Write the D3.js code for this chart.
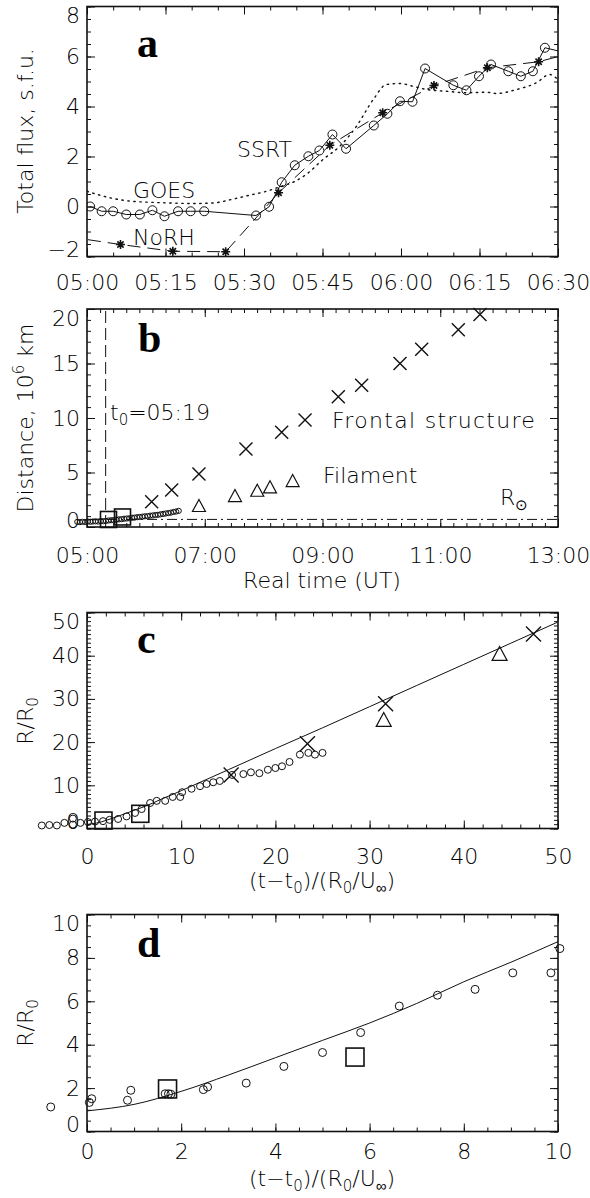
<!DOCTYPE html>
<html lang="en">
<head>
<meta charset="utf-8">
<script src="https://d3js.org/d3.v7.min.js"></script>
<style>
  body { margin: 0; background: #fff; }
  svg text { font-family: 'DejaVu Sans', sans-serif; font-size: 22px; fill: #000; font-weight: 200; }
  svg text.letter { font-family: 'Liberation Serif', 'Times New Roman', serif; font-size: 42px; font-weight: bold; }
  .domain { display: none; }
</style>
</head>
<body>
<svg id="fig" width="590" height="1198"></svg>
<script>
// ---------- panel a : total flux, minutes after 05:00 ----------
const ssrtTime = [0.6, 2.8, 5.0, 7.5, 10.1, 12.5, 14.8, 17.4, 19.8, 22.4, 32.3, 34.8, 37.2, 39.7, 42.3, 44.4,
  46.9, 49.5, 54.8, 57.4, 59.8, 62.2, 64.6, 70.0, 72.5, 74.9, 77.2, 80.5, 82.9, 85.2, 87.5, 91.5];
const ssrtFlux = [0, -0.19, -0.19, -0.32, -0.32, -0.15, -0.39, -0.19, -0.19, -0.19, -0.36, -0.01, 0.97, 1.65, 2.01, 2.24,
  2.88, 2.31, 3.24, 3.71, 4.21, 4.19, 5.52, 4.85, 4.65, 5.21, 5.68, 5.41, 5.21, 5.41, 6.35, 6.15];
const norhTime = [-3.6, 6.4, 16.4, 26.5, 36.6, 46.4, 56.5, 66.3, 76.5, 86.3, 96];
const norhFlux = [-1.21, -1.52, -1.79, -1.81, 0.55, 2.45, 3.75, 4.84, 5.55, 5.79, 6.33];
const goesTime = [0, 2.5, 5, 8, 12, 16, 20, 24, 28, 31, 34.3, 37, 39.7, 42, 45.1, 48.3, 51.5, 54.7, 57.2, 59.8,
  62.3, 64.9, 68.7, 72.5, 76.3, 78.3, 82.1, 85.9, 88.4, 90];
const goesFlux = [0.61, 0.45, 0.32, 0.22, 0.17, 0.14, 0.12, 0.14, 0.3, 0.45, 0.61, 0.8, 1.0, 1.3, 1.88, 2.41, 3.21, 4.28, 4.88, 4.92,
  4.81, 4.68, 4.61, 4.55, 4.57, 4.52, 4.68, 4.95, 5.28, 5.08];

// ---------- panel b : distance (10^6 km) vs minutes after 05:00 ----------
const frontTime = [65.9, 86.3, 114.1, 162.0, 198.4, 222.2, 256.1, 279.9, 319.0, 341.1, 378.4, 400.5];
const frontDist = [2.32, 3.39, 4.86, 7.16, 8.69, 9.82, 11.95, 13.0, 15.0, 16.3, 18.1, 19.5];
const filTime = [114.1, 150.8, 173.5, 186.5, 209.6];
const filDist = [1.93, 2.84, 3.33, 3.64, 4.22];
const boxTime = [21.9, 36.2];
const boxDist = [0.69, 0.92];
const loopTime = [-9.9, -7.2, -4.6, -1.9, 0.7, 3.4, 6.0, 8.7, 11.3, 14.0, 16.6, 19.3, 21.9, 24.6, 27.2, 29.9, 32.5, 35.2,
  37.8, 40.5, 43.1, 45.8, 48.4, 51.1, 53.7, 56.4, 59.0, 61.7, 64.3, 67.0, 69.6, 72.3, 74.9, 77.6, 80.2, 82.9, 85.5, 88.2, 90.8, 93.5];
const loopDist = [0.47, 0.45, 0.48, 0.46, 0.5, 0.48, 0.5, 0.52, 0.5, 0.55, 0.53, 0.56, 0.6, 0.62, 0.63, 0.68, 0.7, 0.72,
  0.76, 0.78, 0.8, 0.85, 0.86, 0.9, 0.92, 0.95, 0.98, 1.0, 1.04, 1.06, 1.1, 1.12, 1.16, 1.2, 1.24, 1.28, 1.32, 1.38, 1.42, 1.48];
const t0 = 19;        // 05:19
const rSun = 0.696;   // 10^6 km

// ---------- panel c / d : dimensionless ----------
const modelX = [0, 1, 2, 3, 4, 5, 6, 7, 8, 9, 10, 15, 20, 25, 30, 35, 40, 45, 50];
const modelY = [0.95, 1.25, 1.85, 2.6, 3.4, 4.2, 5.0, 5.9, 6.9, 7.8, 8.75, 13.6, 18.5, 23.3, 28.2, 33.1, 38.0, 42.9, 47.8];
const cLoopX = [-4.8, -4.0, -3.2, -2.4, -1.5, -1.5, -0.7, 0.1, 0.85, 1.7, 2.4, 3.3, 4.2, 5.1, 5.8, 6.7, 7.4, 8.3, 9.1, 9.9,
  10.1, 11.1, 12.0, 12.7, 13.4, 14.1, 15.4, 16.6, 17.4, 18.3, 19.2, 20.0, 20.7, 21.5, 22.6, 23.5, 24.2, 25.0];
const cLoopY = [0.7, 0.8, 0.7, 1.3, 0.9, 2.3, 1.3, 1.5, 1.6, 1.7, 2.0, 2.2, 2.8, 3.6, 4.5, 5.9, 6.4, 6.4, 7.3, 7.3,
  8.4, 9.2, 9.8, 10.3, 10.7, 11.0, 12.4, 12.6, 13.0, 12.8, 13.6, 14.0, 14.4, 15.4, 17.1, 17.5, 17.1, 17.5];
const cFrontX = [15.3, 23.4, 31.7, 47.4];
const cFrontY = [12.4, 19.6, 28.9, 45.0];
const cFilX = [31.5, 43.8];
const cFilY = [25.1, 40.4];
const cBoxX = [1.75, 5.66];
const cBoxY = [1.84, 3.4];
const dLoopX = [-0.77, 0.05, 0.1, 0.86, 0.93, 1.66, 1.73, 1.78, 2.47, 2.56, 3.38, 4.18, 5.0, 5.81, 6.63, 7.44, 8.24, 9.04, 9.85, 10.04];
const dLoopY = [1.13, 1.34, 1.51, 1.44, 1.9, 1.74, 1.74, 1.72, 1.93, 2.05, 2.23, 3.0, 3.64, 4.56, 5.78, 6.28, 6.55, 7.31, 7.31, 8.43];
const dBoxX = [1.71, 5.69];
const dBoxY = [1.96, 3.43];

const INK = '#111';
const svg = d3.select('#fig');
const zip = (a, b) => a.map((v, i) => [v, b[i]]);
const hhmm = m => String(5 + Math.floor(m / 60)).padStart(2, '0') + ':' + String(m % 60).padStart(2, '0');

// box + ticks on four sides, labels left and bottom
function frame(x, y, o) {
  const [x0, x1] = x.range(), [y0, y1] = y.range();
  const g = svg.append('g');
  const sides = [
    [d3.axisBottom, x, `translate(0,${y0})`, o.xMajor, o.xMinor, o.xFmt, o.xPad],
    [d3.axisTop, x, `translate(0,${y1})`, o.xMajor, o.xMinor, null, 0],
    [d3.axisLeft, y, `translate(${x0},0)`, o.yMajor, o.yMinor, o.yFmt, 7],
    [d3.axisRight, y, `translate(${x1},0)`, o.yMajor, o.yMinor, null, 0]
  ];
  sides.forEach(([ax, sc, tr, major, minor, fmt, pad], i) => {
    g.append('g').attr('transform', tr).attr('color', INK)
      .call(ax(sc).tickValues(minor).tickSize(-4).tickFormat(''));
    const a = g.append('g').attr('transform', tr).attr('color', INK)
      .call(ax(sc).tickValues(major).tickSize(-8).tickPadding(pad).tickFormat(fmt || ''));
    if (i === 2) {
      const lo = d3.min(major), hi = d3.max(major);
      a.selectAll('.tick text').attr('y', d => d === hi ? 9 : d === lo ? -7 : 0);
    }
  });
  g.append('rect').attr('x', x0).attr('y', y1).attr('width', x1 - x0).attr('height', y0 - y1)
    .attr('fill', 'none').attr('stroke', INK).attr('stroke-width', 1.6);
  return g;
}

function rich(sel, parts) {
  let shift = 0;
  parts.forEach(([s, k]) => {
    const off = k === 1 ? 5 : k === 2 ? -9 : 0;
    sel.append('tspan').attr('dy', off - shift).style('font-size', k ? '15px' : null).text(s);
    shift = off;
  });
  return sel;
}
function ylabel(x, y, parts) {
  rich(svg.append('text').attr('transform', `translate(${x},${y}) rotate(-90)`).attr('text-anchor', 'middle'), parts);
}
function label(x, y, parts, anchor) {
  return rich(svg.append('text').attr('x', x).attr('y', y).attr('text-anchor', anchor || 'start'), parts);
}

function circles(g, x, y, xs, ys, r) {
  g.selectAll(null).data(zip(xs, ys)).join('circle')
    .attr('cx', d => x(d[0])).attr('cy', d => y(d[1])).attr('r', r)
    .attr('fill', 'none').attr('stroke', INK).attr('stroke-width', 1);
}
function crosses(g, x, y, xs, ys, h) {
  g.selectAll(null).data(zip(xs, ys)).join('path')
    .attr('d', d => { const cx = x(d[0]), cy = y(d[1]);
      return `M${cx - h},${cy - h}L${cx + h},${cy + h}M${cx - h},${cy + h}L${cx + h},${cy - h}`; })
    .attr('stroke', INK).attr('stroke-width', 1.4).attr('fill', 'none');
}
function triangles(g, x, y, xs, ys, h) {
  g.selectAll(null).data(zip(xs, ys)).join('path')
    .attr('d', d => { const cx = x(d[0]), cy = y(d[1]);
      return `M${cx},${cy - h}L${cx + h},${cy + h * 0.85}L${cx - h},${cy + h * 0.85}Z`; })
    .attr('stroke', INK).attr('stroke-width', 1.2).attr('fill', 'none');
}
function squares(g, x, y, xs, ys, s) {
  g.selectAll(null).data(zip(xs, ys)).join('rect')
    .attr('x', d => x(d[0]) - s / 2).attr('y', d => y(d[1]) - s / 2).attr('width', s).attr('height', s)
    .attr('stroke', INK).attr('stroke-width', 1.6).attr('fill', 'none');
}
function stars(g, x, y, xs, ys, h) {
  g.selectAll(null).data(zip(xs, ys)).join('path')
    .attr('d', d => { const cx = x(d[0]), cy = y(d[1]), k = h * 0.7;
      return `M${cx - h},${cy}L${cx + h},${cy}M${cx},${cy - h}L${cx},${cy + h}` +
        `M${cx - k},${cy - k}L${cx + k},${cy + k}M${cx - k},${cy + k}L${cx + k},${cy - k}`; })
    .attr('stroke', INK).attr('stroke-width', 1.6).attr('fill', 'none');
}
function line(g, x, y, xs, ys, dash, curve) {
  const dotted = dash === '1.4 4.6';
  g.append('path').datum(zip(xs, ys))
    .attr('d', d3.line().x(d => x(d[0])).y(d => y(d[1])).curve(curve || d3.curveLinear))
    .attr('fill', 'none').attr('stroke', INK).attr('stroke-width', dotted ? 1.4 : 1)
    .attr('stroke-dasharray', dash).attr('stroke-linecap', dotted ? 'round' : 'butt');
}

// ================= panel a =================
const xa = d3.scaleLinear().domain([0, 90]).range([87, 558]);
const ya = d3.scaleLinear().domain([-2, 8]).range([256.5, 6.5]);
frame(xa, ya, {
  xMajor: d3.range(0, 91, 15), xMinor: d3.range(0, 91, 5), xFmt: hhmm, xPad: 18,
  yMajor: d3.range(-2, 9, 2), yMinor: d3.range(-2, 8.01, 0.5), yFmt: d3.format('d')
});
svg.append('clipPath').attr('id', 'clipA').append('rect').attr('x', 87).attr('y', 6.5).attr('width', 471).attr('height', 250);
const ga = svg.append('g').attr('clip-path', 'url(#clipA)');
line(ga, xa, ya, goesTime, goesFlux, '1.4 4.6', d3.curveMonotoneX);
line(ga, xa, ya, norhTime, norhFlux, '13 7');
stars(ga, xa, ya, norhTime, norhFlux, 4.5);
line(ga, xa, ya, ssrtTime, ssrtFlux);
circles(ga, xa, ya, ssrtTime, ssrtFlux, 4.5);
label(237, 157, [['SSRT']]);
label(133, 198, [['GOES']]);
label(133, 245, [['NoRH']]);
svg.append('text').attr('class', 'letter').attr('x', 137).attr('y', 57).text('a');
ylabel(33, 131, [['Total flux, s.f.u.']]);

// ================= panel b =================
const xb = d3.scaleLinear().domain([0, 480]).range([87, 558]);
const yb = d3.scaleLinear().domain([0, 20]).range([527, 309]);
frame(xb, yb, {
  xMajor: d3.range(0, 481, 120), xMinor: d3.range(0, 481, 480 / 36), xFmt: hhmm, xPad: 20,
  yMajor: d3.range(0, 21, 5), yMinor: d3.range(0, 21, 1), yFmt: d3.format('d')
});
const gb = svg.append('g');
line(gb, xb, yb, [t0, t0], [0, 20], '12 5');
line(gb, xb, yb, [0, 480], [rSun, rSun], '10 4 2 4');
circles(gb, xb, yb, loopTime, loopDist, 2.6);
squares(gb, xb, yb, boxTime, boxDist, 16);
crosses(gb, xb, yb, frontTime, frontDist, 6.5);
triangles(gb, xb, yb, filTime, filDist, 6.5);
label(110, 420, [['t'], ['0', 1], ['=05:19']]);
label(332, 428, [['Frontal structure']]).style('letter-spacing', '1.3px');
label(323, 483, [['Filament']]);
label(500, 505, [['R'], ['\u2299', 1]]);
svg.append('text').attr('class', 'letter').attr('x', 138).attr('y', 352).text('b');
ylabel(33, 418, [['Distance, 10'], ['6', 2], [' km']]);
label(322, 588, [['Real time (UT)']], 'middle');

// ================= panel c =================
const xc = d3.scaleLinear().domain([0, 50]).range([87, 558]);
const yc = d3.scaleLinear().domain([0, 50]).range([828.5, 612.5]);
frame(xc, yc, {
  xMajor: d3.range(0, 51, 10), xMinor: d3.range(0, 51, 2), xFmt: d3.format('d'), xPad: 20,
  yMajor: d3.range(0, 51, 10), yMinor: d3.range(0, 51, 1), yFmt: d3.format('d')
});
const gc = svg.append('g');
line(gc, xc, yc, modelX, modelY, null, d3.curveMonotoneX);
circles(gc, xc, yc, cLoopX, cLoopY, 3.5);
squares(gc, xc, yc, cBoxX, cBoxY, 17);
crosses(gc, xc, yc, cFrontX, cFrontY, 7.5);
triangles(gc, xc, yc, cFilX, cFilY, 7.5);
svg.append('text').attr('class', 'letter').attr('x', 137).attr('y', 653).text('c');
ylabel(33, 721, [['R/R'], ['0', 1]]);
label(322, 888, [['(t\u2212t'], ['0', 1], [')/(R'], ['0', 1], ['/U'], ['\u221E', 1], [')']], 'middle');

// ================= panel d =================
const xd = d3.scaleLinear().domain([0, 10]).range([87, 558]);
const yd = d3.scaleLinear().domain([0, 10]).range([1131.5, 914.5]);
frame(xd, yd, {
  xMajor: d3.range(0, 11, 2), xMinor: d3.range(0, 10.01, 0.5), xFmt: d3.format('d'), xPad: 12,
  yMajor: d3.range(0, 11, 2), yMinor: d3.range(0, 10.01, 0.5), yFmt: d3.format('d')
});
const gd = svg.append('g');
line(gd, xd, yd, modelX.slice(0, 11), modelY.slice(0, 11), null, d3.curveMonotoneX);
circles(gd, xd, yd, dLoopX, dLoopY, 4);
squares(gd, xd, yd, dBoxX, dBoxY, 18);
svg.append('text').attr('class', 'letter').attr('x', 137).attr('y', 957).text('d');
ylabel(33, 1023, [['R/R'], ['0', 1]]);
label(322, 1186, [['(t\u2212t'], ['0', 1], [')/(R'], ['0', 1], ['/U'], ['\u221E', 1], [')']], 'middle');
</script>
</body>
</html>
